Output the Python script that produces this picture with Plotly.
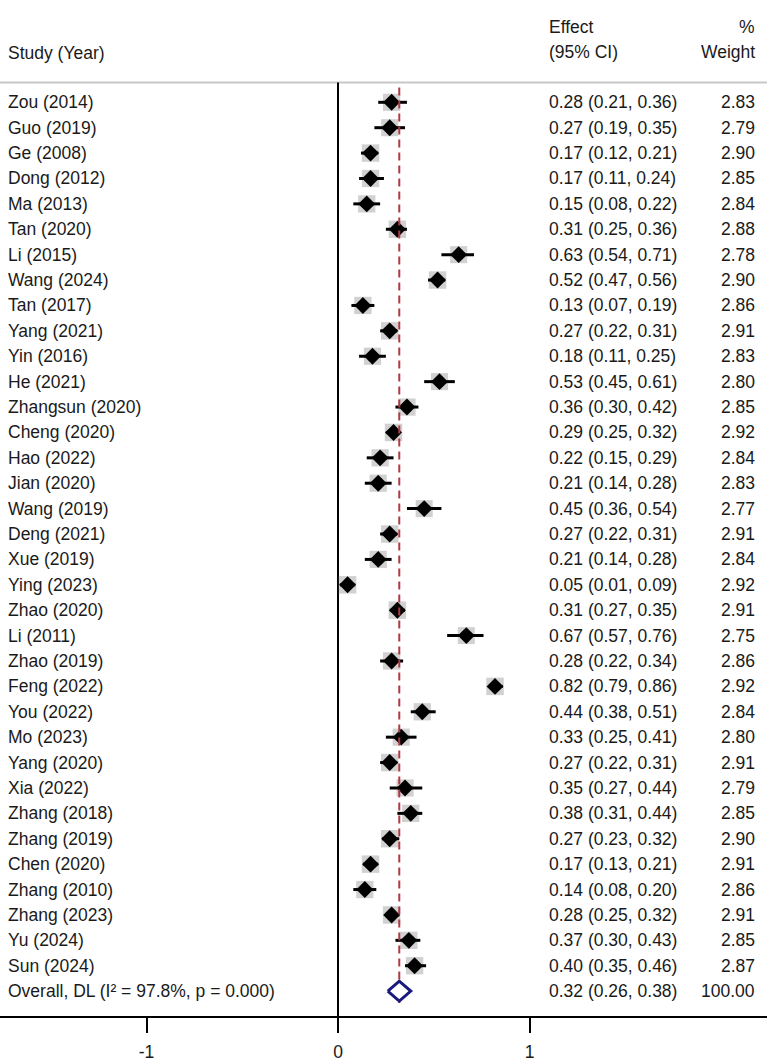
import plotly.graph_objects as go

studies = ["Zou (2014)", "Guo (2019)", "Ge (2008)", "Dong (2012)", "Ma (2013)", "Tan (2020)",
           "Li (2015)", "Wang (2024)", "Tan (2017)", "Yang (2021)", "Yin (2016)", "He (2021)",
           "Zhangsun (2020)", "Cheng (2020)", "Hao (2022)", "Jian (2020)", "Wang (2019)",
           "Deng (2021)", "Xue (2019)", "Ying (2023)", "Zhao (2020)", "Li (2011)", "Zhao (2019)",
           "Feng (2022)", "You (2022)", "Mo (2023)", "Yang (2020)", "Xia (2022)", "Zhang (2018)",
           "Zhang (2019)", "Chen (2020)", "Zhang (2010)", "Zhang (2023)", "Yu (2024)", "Sun (2024)"]
effect = [0.28, 0.27, 0.17, 0.17, 0.15, 0.31, 0.63, 0.52, 0.13, 0.27, 0.18, 0.53, 0.36, 0.29,
          0.22, 0.21, 0.45, 0.27, 0.21, 0.05, 0.31, 0.67, 0.28, 0.82, 0.44, 0.33, 0.27, 0.35,
          0.38, 0.27, 0.17, 0.14, 0.28, 0.37, 0.40]
ci_low = [0.21, 0.19, 0.12, 0.11, 0.08, 0.25, 0.54, 0.47, 0.07, 0.22, 0.11, 0.45, 0.30, 0.25,
          0.15, 0.14, 0.36, 0.22, 0.14, 0.01, 0.27, 0.57, 0.22, 0.79, 0.38, 0.25, 0.22, 0.27,
          0.31, 0.23, 0.13, 0.08, 0.25, 0.30, 0.35]
ci_high = [0.36, 0.35, 0.21, 0.24, 0.22, 0.36, 0.71, 0.56, 0.19, 0.31, 0.25, 0.61, 0.42, 0.32,
           0.29, 0.28, 0.54, 0.31, 0.28, 0.09, 0.35, 0.76, 0.34, 0.86, 0.51, 0.41, 0.31, 0.44,
           0.44, 0.32, 0.21, 0.20, 0.32, 0.43, 0.46]
weight = [2.83, 2.79, 2.90, 2.85, 2.84, 2.88, 2.78, 2.90, 2.86, 2.91, 2.83, 2.80, 2.85, 2.92,
          2.84, 2.83, 2.77, 2.91, 2.84, 2.92, 2.91, 2.75, 2.86, 2.92, 2.84, 2.80, 2.91, 2.79,
          2.85, 2.90, 2.91, 2.86, 2.91, 2.85, 2.87]
overall_label = "Overall, DL (I² = 97.8%, p = 0.000)"
overall_effect = 0.32
overall_low = 0.26
overall_high = 0.38
overall_weight = 100.00
tick_vals = [-1, 0, 1]
tick_text = ["-1", "0", "1"]

# ---- layout geometry (pixels) ----
W, H = 767, 1062
AXIS_Y = 1023          # pixel of x-axis line
ROW0 = 103             # pixel of first row
ROW_STEP = 25.57
X0_PX, UNIT_PX = 338, 191.5
FONT = "Liberation Sans, Arial, Helvetica, sans-serif"
FS = 17.5
TXT = "#1a1a1a"

def prow(p):
    return 1 + (p - ROW0) / ROW_STEP

n = len(studies)
rows = list(range(1, n + 1))
overall_row = n + 1

x_range = [(0 - X0_PX) / UNIT_PX, (W - X0_PX) / UNIT_PX]
y_range = [prow(AXIS_Y), prow(0)]

fig = go.Figure()

# gray weight squares
sizes = [17.5 * (w / max(weight)) ** 0.5 for w in weight]
fig.add_trace(go.Scatter(x=effect, y=rows, mode="markers",
                         marker=dict(symbol="square", size=sizes, color="#bdbdbd",
                                     line=dict(width=0)),
                         hoverinfo="skip", showlegend=False))

# CI lines
cx, cy = [], []
for lo, hi, r in zip(ci_low, ci_high, rows):
    cx += [lo, hi, None]
    cy += [r, r, None]
fig.add_trace(go.Scatter(x=cx, y=cy, mode="lines", line=dict(color="black", width=3),
                         hoverinfo="skip", showlegend=False))

# point estimates
fig.add_trace(go.Scatter(x=effect, y=rows, mode="markers",
                         marker=dict(symbol="diamond", size=13, color="black",
                                     line=dict(width=0)),
                         hoverinfo="skip", showlegend=False))

# overall dashed line
fig.add_trace(go.Scatter(x=[overall_effect, overall_effect], y=[prow(88), prow(1010)],
                         mode="lines", line=dict(color="#b03a44", width=2, dash="8px,5px"),
                         hoverinfo="skip", showlegend=False))

# overall diamond
h = 10 / ROW_STEP
fig.add_trace(go.Scatter(x=[overall_low, overall_effect, overall_high, overall_effect, overall_low],
                         y=[overall_row, overall_row - h, overall_row, overall_row + h, overall_row],
                         mode="lines", fill="toself", fillcolor="white",
                         line=dict(color="#1a1a7e", width=3),
                         hoverinfo="skip", showlegend=False))

# null line at 0
fig.add_shape(type="line", x0=0, x1=0, y0=prow(83), y1=prow(AXIS_Y), xref="x", yref="y",
              line=dict(color="black", width=2), layer="below")
# header separator
fig.add_shape(type="line", x0=0, x1=1, y0=prow(83), y1=prow(83), xref="paper", yref="y",
              line=dict(color="#c8c8c8", width=2), layer="below")

ann = []
def add_text(txt, xpx, ypx_row, anchor):
    ann.append(dict(x=xpx / W, y=ypx_row, xref="paper", yref="y", text=txt, showarrow=False,
                    xanchor=anchor, yanchor="middle", font=dict(family=FONT, size=FS, color=TXT),
                    borderpad=0))

# headers
add_text("Study (Year)", 7, prow(53), "left")
add_text("Effect", 548, prow(27), "left")
add_text("(95% CI)", 548, prow(52), "left")
add_text("%", 756, prow(27), "right")
add_text("Weight", 756, prow(52), "right")

for s, e, lo, hi, w, r in zip(studies, effect, ci_low, ci_high, weight, rows):
    add_text(s, 7, r, "left")
    add_text(f"{e:.2f} ({lo:.2f}, {hi:.2f})", 548, r, "left")
    add_text(f"{w:.2f}", 756, r, "right")

add_text(overall_label, 7, overall_row, "left")
add_text(f"{overall_effect:.2f} ({overall_low:.2f}, {overall_high:.2f})", 548, overall_row, "left")
add_text(f"{overall_weight:.2f}", 756, overall_row, "right")

fig.update_layout(
    width=W, height=H,
    margin=dict(l=0, r=0, t=0, b=H - AXIS_Y),
    paper_bgcolor="white", plot_bgcolor="white",
    annotations=ann,
    xaxis=dict(range=x_range, tickvals=tick_vals, ticktext=tick_text, ticks="outside",
               ticklen=15, tickwidth=2, tickcolor="black", showline=True, linecolor="black",
               linewidth=2, showgrid=False, zeroline=False, ticklabelstandoff=4,
               tickfont=dict(family=FONT, size=FS, color=TXT)),
    yaxis=dict(range=y_range, visible=False, showgrid=False, zeroline=False),
)

fig.write_html("out.html")
